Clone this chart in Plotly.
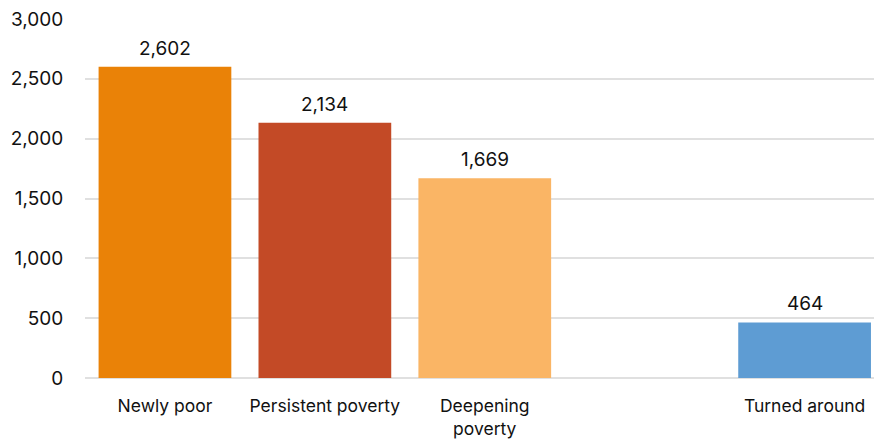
import plotly.graph_objects as go

# Households by poverty trajectory
categories = ["Newly poor", "Persistent poverty", "Deepening<br>poverty", "Turned around"]
values = [2602, 2134, 1669, 464]
colors = ["#EA8207", "#C34A26", "#FAB565", "#5E9CD3"]

# Axis slots: a blank slot separates the last group from the first three
slot_order = ["Newly poor", "Persistent poverty", "Deepening<br>poverty", " ", "Turned around"]
y_ticks = [0, 500, 1000, 1500, 2000, 2500, 3000]

font_family = "Inter, Liberation Sans, Arial, sans-serif"
ink = "#111111"

fig = go.Figure(
    go.Bar(
        x=categories,
        y=values,
        marker=dict(color=colors, line=dict(width=0)),
        cliponaxis=False,
        hoverinfo="x+y",
    )
)

# Value labels sitting above each bar
for cat, val in zip(categories, values):
    fig.add_annotation(
        x=cat,
        y=val,
        text=f"{val:,}",
        showarrow=False,
        yanchor="bottom",
        yshift=5,
        font=dict(family=font_family, size=19, color=ink),
    )

fig.update_layout(
    width=874,
    height=440,
    margin=dict(l=85, r=0, t=19, b=62),
    paper_bgcolor="white",
    plot_bgcolor="white",
    bargap=0.17,
    showlegend=False,
    font=dict(family=font_family, color=ink),
    xaxis=dict(
        type="category",
        categoryorder="array",
        categoryarray=slot_order,
        range=[-0.5, 4.434],
        showgrid=False,
        showline=False,
        ticks="outside",
        ticklen=12,
        tickcolor="rgba(0,0,0,0)",
        tickfont=dict(size=17.5, color=ink),
    ),
    yaxis=dict(
        range=[0, 3000],
        tickvals=y_ticks,
        ticktext=[f"{t:,}" for t in y_ticks],
        showgrid=True,
        gridcolor="#E0E0E0",
        gridwidth=1.5,
        zeroline=True,
        zerolinecolor="#E0E0E0",
        zerolinewidth=1.5,
        showline=False,
        ticks="outside",
        ticklen=17,
        tickcolor="rgba(0,0,0,0)",
        tickfont=dict(size=19, color=ink),
    ),
)

fig.write_html("out.html")
